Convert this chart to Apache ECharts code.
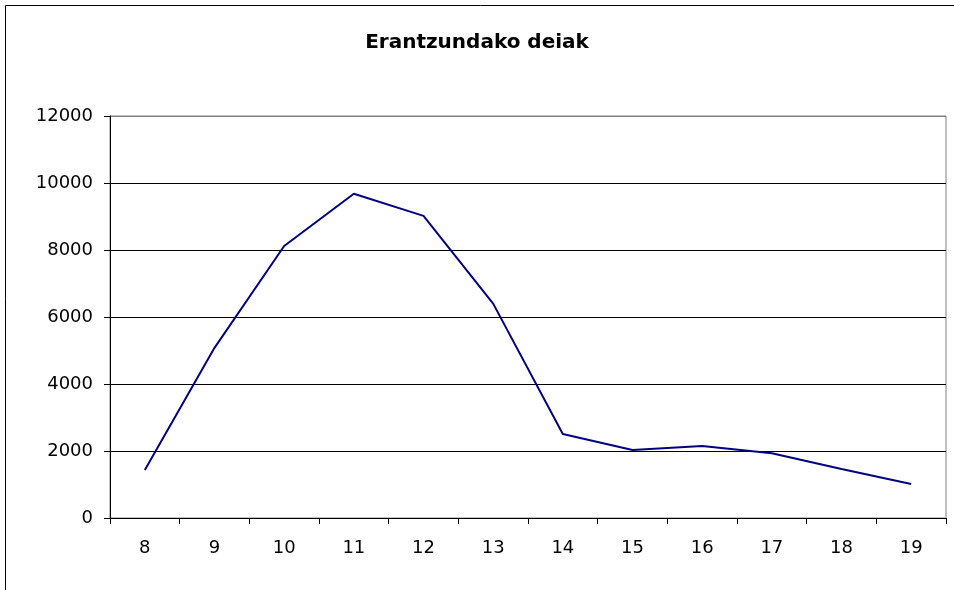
<!DOCTYPE html>
<html>
<head>
<meta charset="utf-8">
<script src="https://cdn.jsdelivr.net/npm/echarts@6/dist/echarts.min.js"></script>
<style>
  html, body { margin: 0; padding: 0; background: #fff; }
  #chart { width: 954px; height: 590px; }
</style>
</head>
<body>
<div id="chart"></div>
<script>
// hours of the day and answered calls
const hours = ['8', '9', '10', '11', '12', '13', '14', '15', '16', '17', '18', '19'];
const calls = [1430, 5080, 8120, 9680, 9020, 6400, 2510, 2030, 2150, 1930, 1460, 1015];

const chart = echarts.init(document.getElementById('chart'));

const font = '"DejaVu Sans", sans-serif';

chart.setOption({
  animation: false,
  textStyle: { fontFamily: font },
  title: {
    text: 'Erantzundako deiak',
    left: 'center',
    top: 28,
    textStyle: { fontSize: 20, fontWeight: 'bold', color: '#000', fontFamily: font },
  },
  graphic: [
    {
      type: 'rect',
      shape: { x: 5.5, y: 5.5, width: 1000, height: 1000 },
      style: { fill: 'none', stroke: '#000', lineWidth: 1 },
      silent: true,
    },
  ],
  grid: {
    left: 110,
    right: 8,
    top: 116,
    bottom: 72,
    show: true,
    borderColor: '#808080',
    borderWidth: 1,
  },
  xAxis: {
    type: 'category',
    data: hours,
    boundaryGap: true,
    axisLine: { lineStyle: { color: '#000', width: 1 } },
    axisTick: { show: true, alignWithLabel: false, length: 6, lineStyle: { color: '#000' } },
    axisLabel: { fontSize: 18, color: '#000', margin: 21, fontFamily: font },
    splitLine: { show: false },
  },
  yAxis: {
    type: 'value',
    min: 0,
    max: 12000,
    interval: 2000,
    axisLine: { show: true, lineStyle: { color: '#000', width: 1 } },
    axisTick: { show: true, length: 6, lineStyle: { color: '#000' } },
    axisLabel: { fontSize: 18, color: '#000', margin: 17, fontFamily: font, formatter: v => String(v) },
    splitLine: {
      show: true,
      lineStyle: { color: ['#000', '#000', '#000', '#000', '#000', '#000', '#808080'], width: 1 },
    },
  },
  series: [
    {
      type: 'line',
      data: calls,
      symbol: 'none',
      lineStyle: { color: '#000080', width: 2 },
    },
  ],
});
</script>
</body>
</html>
